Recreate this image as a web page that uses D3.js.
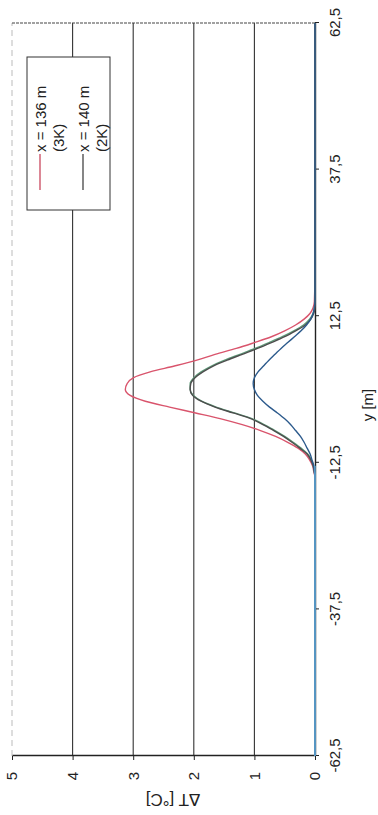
<!DOCTYPE html>
<html>
<head>
<meta charset="utf-8">
<script src="https://cdn.jsdelivr.net/npm/d3@7"></script>
<style>
body { margin: 0; background: #fff; }
text { font-family: "Liberation Sans", Arial, sans-serif; fill: #222; }
</style>
</head>
<body>
<div id="chart"></div>
<script>
// data: lateral position y [m] and temperature rise dT [°C]
var yPos = [-62.5, -20, -15, -14, -13, -12, -11, -10, -9, -8, -7, -6, -5, -4, -3, -2, -1, 0,
            1, 2, 3, 4, 5, 6, 7, 8, 9, 10, 11, 12, 13, 14, 15, 20, 62.5];
var dtRed = [0, 0, 0, 0.02, 0.04, 0.09, 0.16, 0.28, 0.45, 0.65, 0.9, 1.2, 1.55, 1.97, 2.4, 2.8, 3.05, 3.13,
             3.1, 3.0, 2.72, 2.32, 1.95, 1.65, 1.3, 1.0, 0.72, 0.5, 0.32, 0.18, 0.08, 0.03, 0.01, 0, 0];
var dtGray = [0, 0, 0, 0.01, 0.03, 0.07, 0.13, 0.25, 0.38, 0.52, 0.68, 0.86, 1.05, 1.35, 1.65, 1.88, 2.02, 2.06,
              2.05, 1.98, 1.85, 1.68, 1.45, 1.2, 0.95, 0.72, 0.5, 0.32, 0.16, 0.07, 0.02, 0, 0, 0, 0];
var dtGreen = [0, 0, 0, 0.01, 0.03, 0.06, 0.12, 0.23, 0.36, 0.5, 0.66, 0.84, 1.03, 1.33, 1.63, 1.87, 2.01, 2.06,
               2.06, 2.0, 1.88, 1.71, 1.49, 1.24, 0.99, 0.76, 0.54, 0.35, 0.19, 0.09, 0.03, 0.01, 0, 0, 0];
var dtBlue = [0, 0, 0, 0.01, 0.02, 0.05, 0.08, 0.13, 0.18, 0.24, 0.32, 0.4, 0.5, 0.62, 0.75, 0.86, 0.95, 1.0,
              1.02, 1.0, 0.94, 0.85, 0.76, 0.66, 0.56, 0.45, 0.34, 0.23, 0.14, 0.07, 0.03, 0.01, 0, 0, 0];
// light blue reference run, flat at zero on the lower side
var yPosLight = [-62.5, -40, -20, -13];
var dtLight = [0, 0, 0, 0];

var yTicks = [-62.5, -37.5, -12.5, 12.5, 37.5, 62.5];
var dtTicks = [0, 1, 2, 3, 4, 5];
var legendLabels = [["x = 136 m", "(3K)"], ["x = 140 m", "(2K)"]];
var legendColors = ["#c9485e", "#444"];

// chart is drawn in its normal frame, then turned 90 degrees
var width = 733, height = 303;

var svg = d3.select('#chart').append('svg')
    .attr('width', 378).attr('height', 815);

var g = svg.append('g')
    .attr('transform', 'translate(12,756) rotate(-90)');

var x = d3.scaleLinear().domain([-62.5, 62.5]).range([0, width]);
var y = d3.scaleLinear().domain([0, 5]).range([height, 0]);

// grid lines
g.selectAll('.grid').data([1, 2, 3, 4]).enter().append('line')
    .attr('x1', 0).attr('x2', width)
    .attr('y1', function(d) { return y(d); }).attr('y2', function(d) { return y(d); })
    .attr('stroke', '#333').attr('stroke-width', 1.1);

g.append('line')
    .attr('x1', 0).attr('x2', width).attr('y1', y(5)).attr('y2', y(5))
    .attr('stroke', '#bbb').attr('stroke-width', 1).attr('stroke-dasharray', '6,4');

g.append('line')
    .attr('x1', width).attr('x2', width).attr('y1', 0).attr('y2', height)
    .attr('stroke', '#444').attr('stroke-width', 1.2).attr('stroke-dasharray', '3,1');

// axes
var fmt = function(d) { return String(d).replace('.', ','); };

var xAxis = g.append('g')
    .attr('transform', 'translate(0,' + height + ')')
    .call(d3.axisBottom(x).tickValues(yTicks).tickFormat(fmt).tickSize(4).tickSizeOuter(0).tickPadding(10));

var yAxis = g.append('g')
    .call(d3.axisLeft(y).tickValues(dtTicks).tickFormat(d3.format('d')).tickSize(4).tickSizeOuter(0).tickPadding(12));

[xAxis, yAxis].forEach(function(a) {
    a.select('.domain').attr('stroke', '#222').attr('stroke-width', 1.4);
    a.selectAll('.tick line').attr('stroke', '#222');
    a.selectAll('.tick text').attr('font-size', '15px').attr('font-family', '"Liberation Sans", Arial, sans-serif').attr('fill', '#222');
});

// curves
var line = d3.line()
    .x(function(d) { return x(d[0]); })
    .y(function(d) { return y(d[1]); })
    .curve(d3.curveMonotoneX);

var series = [
    { pos: yPos, vals: dtRed, color: '#d9546c' },
    { pos: yPos, vals: dtGreen, color: '#5f9c7a' },
    { pos: yPos, vals: dtGray, color: '#4d4d4d' },
    { pos: yPos, vals: dtBlue, color: '#2c5a8c' },
    { pos: yPosLight, vals: dtLight, color: '#62aee0' }
];

g.selectAll('.curve').data(series).enter().append('path')
    .attr('class', 'curve')
    .attr('fill', 'none')
    .attr('stroke', function(d) { return d.color; })
    .attr('stroke-width', 1.4)
    .attr('d', function(d) { return line(d.pos.map(function(p, i) { return [p, d.vals[i]]; })); });

// legend
var legend = g.append('g').attr('transform', 'translate(546,15)');
legend.append('rect')
    .attr('width', 153).attr('height', 83)
    .attr('fill', '#fff').attr('stroke', '#333').attr('stroke-width', 1);

var items = legend.selectAll('.item').data(legendLabels).enter().append('g')
    .attr('transform', function(d, i) { return 'translate(0,' + (13 + i * 43) + ')'; });

items.append('line')
    .attr('x1', 20).attr('x2', 56).attr('y1', 0).attr('y2', 0)
    .attr('stroke', function(d, i) { return legendColors[i]; }).attr('stroke-width', 1.3);

items.append('text')
    .attr('x', 58).attr('y', 5.5)
    .attr('font-size', '15px')
    .text(function(d) { return d[0]; });

items.append('text')
    .attr('x', 58).attr('y', 24)
    .attr('font-size', '15px')
    .text(function(d) { return d[1]; });

// axis titles
g.append('text')
    .attr('x', 351).attr('y', 361)
    .attr('text-anchor', 'middle')
    .attr('font-size', '15px')
    .text('y [m]');

g.append('text')
    .attr('transform', 'translate(-38,161) rotate(-90)')
    .attr('text-anchor', 'middle')
    .attr('font-size', '17px')
    .text('ΔT [°C]');
</script>
</body>
</html>
